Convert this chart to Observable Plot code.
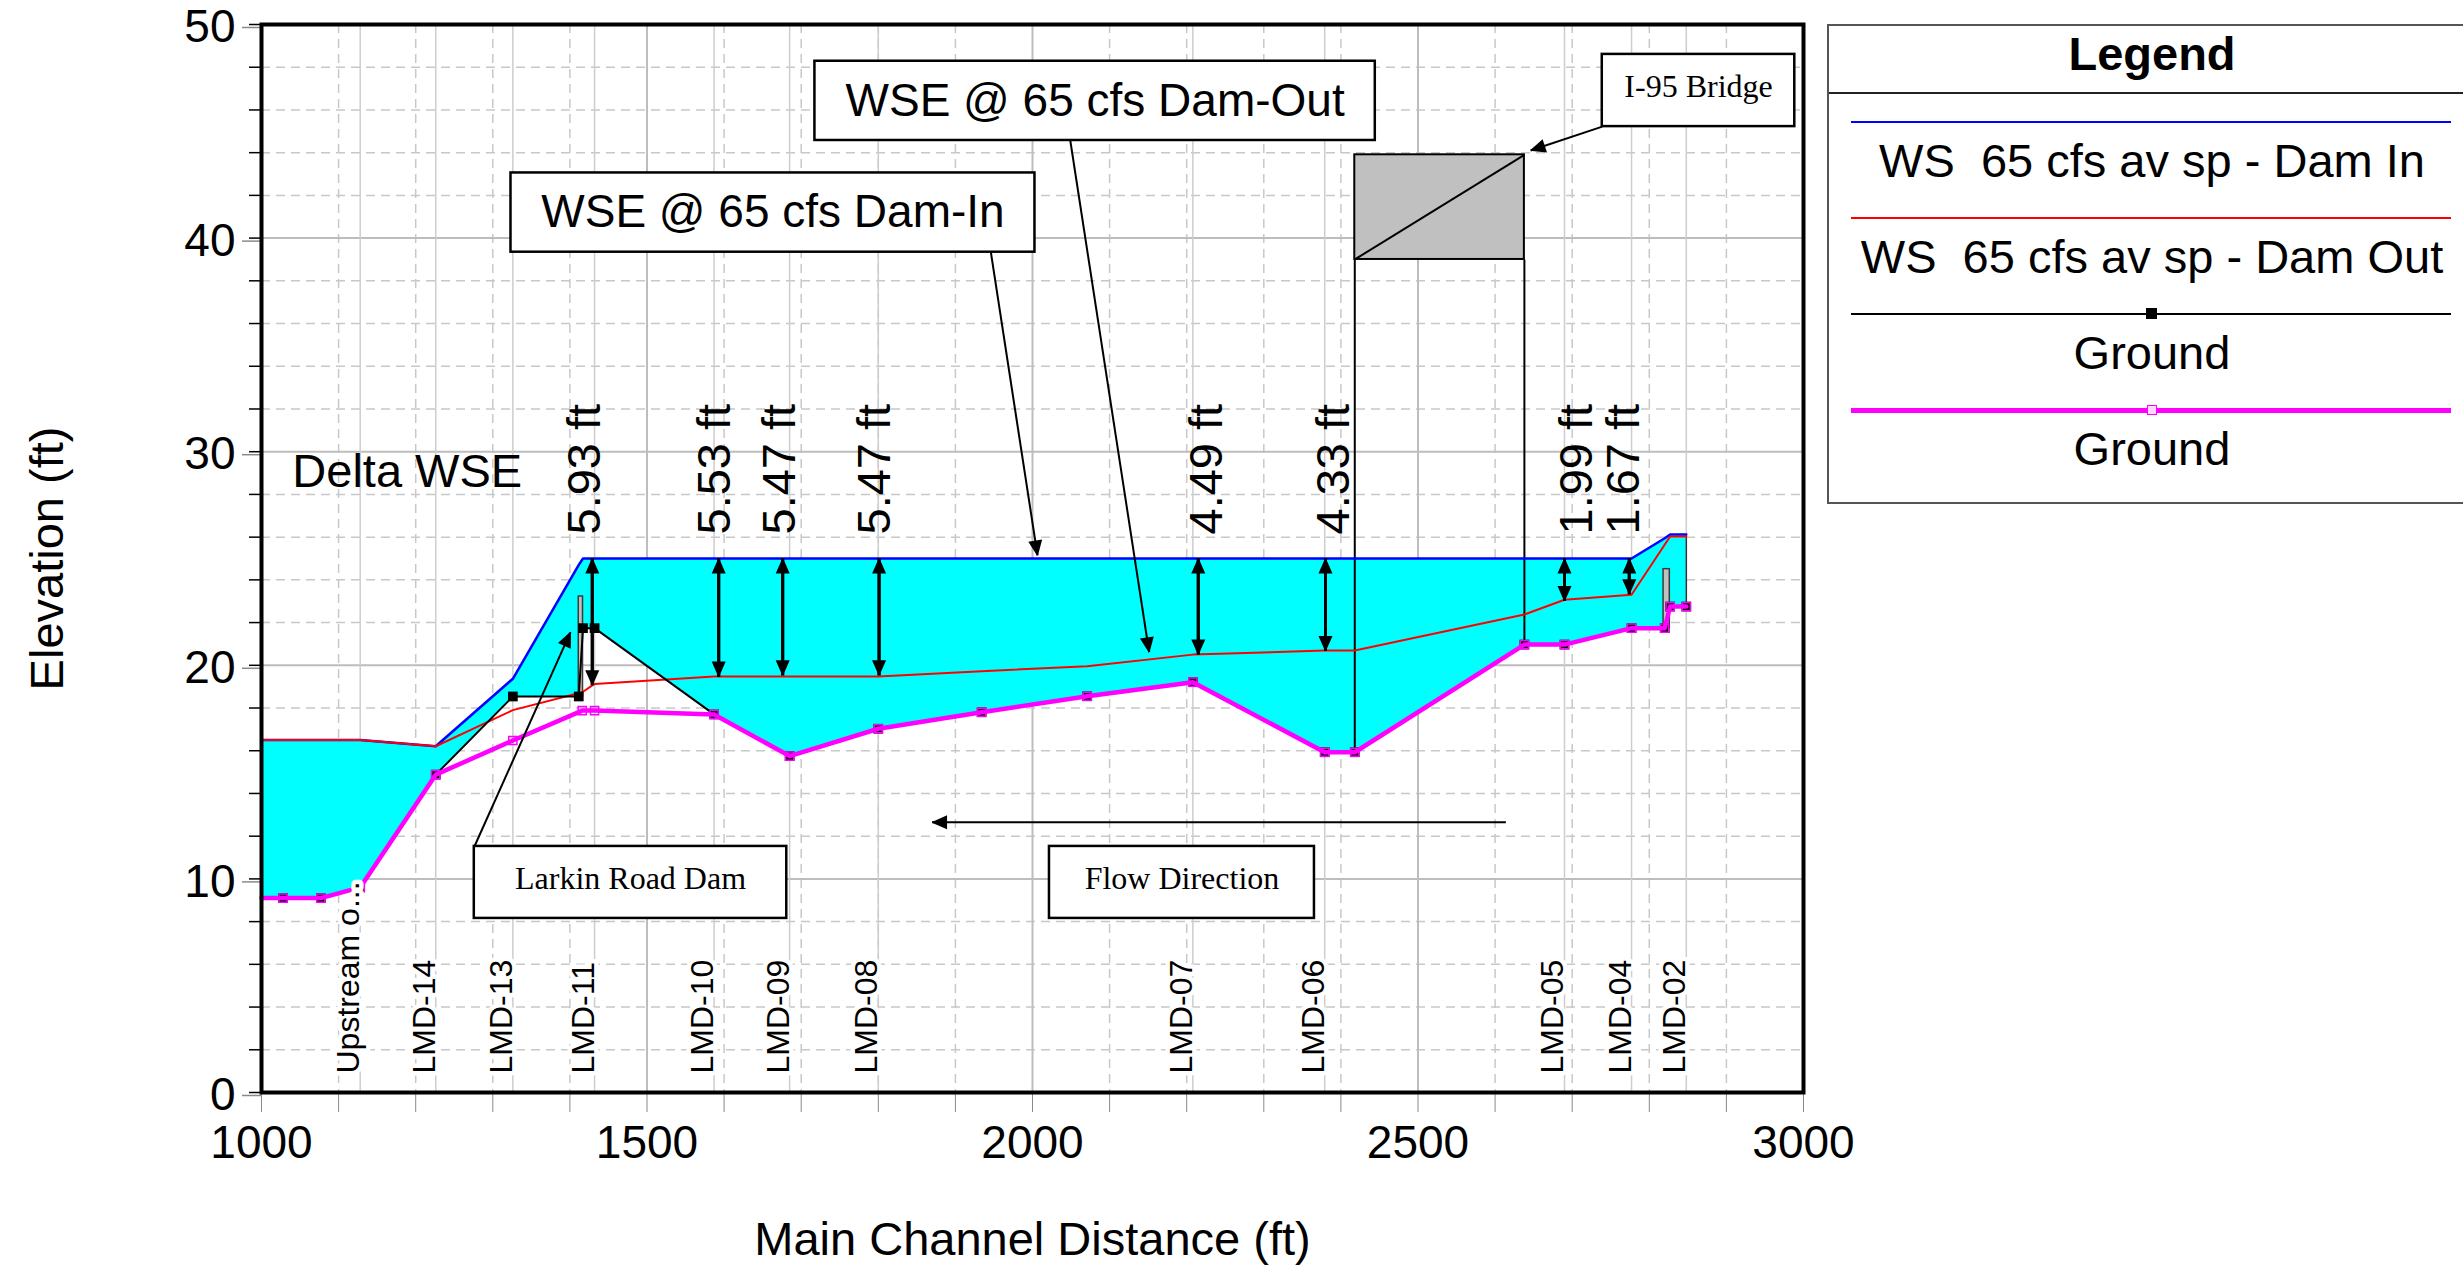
<!DOCTYPE html>
<html>
<head>
<meta charset="utf-8">
<script src="https://cdn.jsdelivr.net/npm/d3@7"></script>
<script src="https://cdn.jsdelivr.net/npm/@observablehq/plot@0.6"></script>
<style>
  html, body { margin: 0; padding: 0; background: #fff; }
  #wrap { position: relative; width: 2463px; height: 1279px; overflow: hidden; background: #fff;
          font-family: "Liberation Sans", Arial, Helvetica, sans-serif; }
  #wrap svg { position: absolute; left: 0; top: 0; }
  #legend { position: absolute; left: 1827px; top: 24px; width: 680px; height: 480px;
            border: 2px solid #555; box-sizing: border-box; background: #fff; }
  #legend .title { position: absolute; left: 0; width: 646px; top: 0; height: 56px; line-height: 56px;
                   text-align: center; font-weight: bold; font-size: 47px; }
  #legend .sep { position: absolute; left: 0; width: 100%; top: 66px; height: 0; border-top: 2px solid #222; }
  #legend .ln { position: absolute; left: 22px; width: 600px; }
  #legend .lab { position: absolute; left: 0; width: 646px; text-align: center; font-size: 47px;
                 white-space: pre; line-height: 56px; height: 56px; }
  #legend .mk { position: absolute; box-sizing: border-box; }
</style>
</head>
<body>
<div id="wrap"><div id="legend"></div></div>
<script>
// ---------------- data ----------------
// tick values
const xMajor = [1000, 1500, 2000, 2500, 3000];
const xMinor = [1000,1100,1200,1300,1400,1500,1600,1700,1800,1900,2000,2100,2200,2300,2400,2500,2600,2700,2800,2900,3000];
const yMajor = [0, 10, 20, 30, 40, 50];
const yMinor = [0,2,4,6,8,10,12,14,16,18,20,22,24,26,28,30,32,34,36,38,40,42,44,46,48,50];

// named cross sections
const stationNames = ["Upstream o...","LMD-14","LMD-13","LMD-11","LMD-10","LMD-09","LMD-08","LMD-07","LMD-06","LMD-05","LMD-04","LMD-02"];
const stationDist  = [1128, 1226, 1326, 1432, 1587, 1685, 1800, 2208, 2379, 2690, 2777, 2848];

// Dam In geometry: water surface (blue) and ground (black)
const damInDist   = [1000, 1028, 1077, 1128, 1226, 1326, 1411.5, 1417, 1432, 1587, 1685, 1800, 1934, 2071, 2208, 2379, 2418, 2638, 2690, 2777, 2820, 2827, 2848];
const wseDamIn    = [16.5, 16.5, 16.5, 16.5, 16.21, 19.37, 24.7, 25.0, 25.0, 25.0, 25.0, 25.0, 25.0, 25.0, 25.0, 25.0, 25.0, 25.0, 25.0, 25.0, 25.95, 26.12, 26.12];
const groundDamIn = [9.1, 9.1, 9.1, 9.6, 14.88, 18.54, 18.54, 21.74, 21.74, 17.7, 15.75, 17.03, 17.8, 18.55, 19.21, 15.93, 15.93, 20.97, 20.97, 21.74, 21.74, 22.75, 22.75];

// Dam Out geometry: water surface (red)
const damOutWsDist = [1000, 1028, 1077, 1128, 1226, 1326, 1416, 1432, 1587, 1685, 1800, 1934, 2071, 2208, 2379, 2418, 2638, 2690, 2777, 2827, 2848];
const wseDamOut    = [16.5, 16.5, 16.5, 16.5, 16.21, 17.9, 18.74, 19.13, 19.47, 19.48, 19.48, 19.72, 19.96, 20.5, 20.69, 20.69, 22.38, 23.07, 23.3, 26.03, 26.03];
// Dam Out ground (magenta)
const damOutGrDist = [1000, 1028, 1077, 1128, 1226, 1326, 1416, 1432, 1587, 1685, 1800, 1934, 2071, 2208, 2379, 2418, 2638, 2690, 2777, 2820, 2827, 2848];
const groundDamOut = [9.1, 9.1, 9.1, 9.6, 14.88, 16.48, 17.88, 17.88, 17.7, 15.75, 17.03, 17.8, 18.55, 19.21, 15.93, 15.93, 20.97, 20.97, 21.74, 21.74, 22.75, 22.75];

// delta WSE arrows
const deltaDist   = [1429, 1593, 1676, 1801, 2215, 2380, 2690, 2774];
const deltaTop    = [25.0, 25.0, 25.0, 25.0, 25.0, 25.0, 25.0, 25.0];
const deltaValues = [5.93, 5.53, 5.47, 5.47, 4.49, 4.33, 1.99, 1.67];
const deltaLabelDist = [1420, 1588, 1672, 1796, 2226, 2391, 2706, 2767];

// structures
const bridgeDist   = [2418, 2638];
const bridgeLow    = 39.0;
const bridgeHigh   = 43.9;
const bridgeGround = [15.93, 20.97];
const weirX1 = [1411.5, 2818.5];
const weirX2 = [1417, 2826.6];
const weirBottom = [18.54, 21.74];
const weirTop = [23.22, 24.5];

// annotation boxes
const boxText = ["WSE @ 65 cfs Dam-In", "WSE @ 65 cfs Dam-Out", "I-95 Bridge", "Larkin Road Dam", "Flow Direction"];
const boxX1 = [1323.6, 1717.8, 2739, 1276, 2022];
const boxX2 = [2003.2, 2444.6, 2988.7, 1681.3, 2365.7];
const boxY1 = [39.34, 44.57, 45.22, 8.15, 8.15];
const boxY2 = [43.05, 48.28, 48.6, 11.52, 11.52];
const boxSerif = [false, false, true, true, true];

// callout arrows (from -> to)
const calloutFromX = [1946, 2049, 2739, 1276.3, 2614];
const calloutFromY = [39.34, 44.57, 45.22, 11.53, 12.65];
const calloutToX   = [2006.5, 2151.3, 2646, 1400.8, 1869.7];
const calloutToY   = [25.14, 20.61, 44.1, 21.55, 12.65];

const deltaTitle = ["Delta WSE"];
const deltaTitleX = [1040];
const deltaTitleY = [29.07];

// legend
const legendTitle = "Legend";
const legendLabels = ["WS  65 cfs av sp - Dam In", "WS  65 cfs av sp - Dam Out", "Ground", "Ground"];
const legendColors = ["#0000ff", "#ff0000", "#000000", "#ff00ff"];

// ---------------- tables ----------------
const damIn = damInDist.map((x, i) => ({x, w: wseDamIn[i], g: groundDamIn[i]}));
const damOutWs = damOutWsDist.map((x, i) => ({x, w: wseDamOut[i]}));
const damOutGr = damOutGrDist.map((x, i) => ({x, g: groundDamOut[i]}));
const stations = stationDist.map((x, i) => ({x, name: stationNames[i]}));
const deltas = deltaDist.map((x, i) => ({x, top: deltaTop[i], bot: deltaTop[i] - deltaValues[i],
  label: deltaValues[i].toFixed(2) + " ft", lx: deltaLabelDist[i]}));
const bridge = [{x1: bridgeDist[0], x2: bridgeDist[1], y1: bridgeLow, y2: bridgeHigh}];
const bridgeSides = bridgeDist.map((x, i) => ({x, low: bridgeLow, ground: bridgeGround[i]}));
const weirs = weirX1.map((x1, i) => ({x1, x2: weirX2[i], y1: weirBottom[i], y2: weirTop[i]}));
const boxes = boxText.map((t, i) => ({t, x1: boxX1[i], x2: boxX2[i], y1: boxY1[i], y2: boxY2[i],
  cx: (boxX1[i] + boxX2[i]) / 2, cy: (boxY1[i] + boxY2[i]) / 2, serif: boxSerif[i]}));
const callouts = calloutFromX.map((x1, i) => ({x1, y1: calloutFromY[i], x2: calloutToX[i], y2: calloutToY[i]}));
const titles = deltaTitle.map((t, i) => ({t, x: deltaTitleX[i], y: deltaTitleY[i]}));

const sans = "'Liberation Sans', Arial, Helvetica, sans-serif";
const serif = "'Liberation Serif', 'Times New Roman', serif";

const minorXGrid = xMinor.filter(d => !xMajor.includes(d));
const minorYGrid = yMinor.filter(d => !yMajor.includes(d));

const chart = Plot.plot({
  width: 2463,
  height: 1279,
  marginLeft: 261,
  marginRight: 660,
  marginTop: 24,
  marginBottom: 187,
  x: {domain: [1000, 3000]},
  y: {domain: [0, 50]},
  style: {fontFamily: sans, background: "transparent", color: "black"},
  marks: [
    // grid
    Plot.ruleX(minorXGrid, {stroke: "#c8c8c8", strokeWidth: 1.5, strokeDasharray: "9,6"}),
    Plot.ruleY(minorYGrid, {stroke: "#c8c8c8", strokeWidth: 1.5, strokeDasharray: "9,6"}),
    Plot.ruleX(xMajor.slice(1, -1), {stroke: "#bdbdbd", strokeWidth: 2}),
    Plot.ruleY(yMajor.slice(1, -1), {stroke: "#bdbdbd", strokeWidth: 2}),
    Plot.ruleX(stations, {x: "x", stroke: "#cdcdcd", strokeWidth: 1.5}),
    // axes
    Plot.axisX(xMinor, {tickSize: 20, stroke: "#8a8a8a", strokeWidth: 1, tickFormat: () => "", label: null}),
    Plot.axisX(xMajor, {tickSize: 0, tickPadding: 33, fontSize: 46, tickFormat: "d", label: null}),
    Plot.axisY(yMinor, {tickSize: 12, stroke: "black", strokeWidth: 1.5, tickFormat: () => "", label: null}),
    Plot.axisY(yMajor, {tickSize: 19, tickPadding: 7, stroke: "#8a8a8a", strokeWidth: 1.5, fontSize: 46, dy: 3, tickFormat: "d", label: null}),
    Plot.text(["Main Channel Distance (ft)"], {frameAnchor: "bottom", dy: 147, fontSize: 47, lineAnchor: "middle"}),
    Plot.text(["Elevation (ft)"], {frameAnchor: "left", dx: -214, rotate: -90, fontSize: 47, lineAnchor: "middle", textAnchor: "middle"}),
    // water fill (Dam In)
    Plot.areaY(damIn, {x: "x", y1: "g", y2: "w", fill: "#00ffff", curve: "linear"}),
    // bridge
    Plot.rect(bridge, {x1: "x1", x2: "x2", y1: "y1", y2: "y2", fill: "#c0c0c0", stroke: "black", strokeWidth: 2}),
    Plot.link(bridge, {x1: "x1", y1: "y1", x2: "x2", y2: "y2", stroke: "black", strokeWidth: 2}),
    Plot.link(bridgeSides, {x1: "x", x2: "x", y1: "low", y2: "ground", stroke: "black", strokeWidth: 2}),
    // weirs / dams
    Plot.rect(weirs, {x1: "x1", x2: "x2", y1: "y1", y2: "y2", fill: "#c0c0c0", stroke: "#3a3a3a", strokeWidth: 1.5}),
    // right edge of the water body
    Plot.link(damIn.slice(-1), {x1: "x", x2: "x", y1: "g", y2: "w", stroke: "#333", strokeWidth: 1.5}),
    // water surfaces
    Plot.line(damIn, {x: "x", y: "w", stroke: "#0000ff", strokeWidth: 2.5}),
    Plot.line(damOutWs, {x: "x", y: "w", stroke: "#ff0000", strokeWidth: 2}),
    // ground dam in
    Plot.line(damIn, {x: "x", y: "g", stroke: "black", strokeWidth: 2}),
    Plot.dot(damIn.filter(d => d.x > 1000), {x: "x", y: "g", symbol: "square", fill: "black", r: 5.5}),
    // ground dam out
    Plot.line(damOutGr, {x: "x", y: "g", stroke: "#ff00ff", strokeWidth: 4.5}),
    Plot.dot(damOutGr.filter(d => d.x > 1000), {x: "x", y: "g", symbol: "square", fill: "none", stroke: "#ff00ff", strokeWidth: 1.5, r: 4.6}),
    // delta arrows (two halves, each with an end marker)
    Plot.link(deltas, {x1: "x", x2: "x", y1: "bot", y2: "top", stroke: "black", strokeWidth: 3, markerEnd: "arrow"}),
    Plot.link(deltas, {x1: "x", x2: "x", y1: "top", y2: "bot", stroke: "black", strokeWidth: 3, markerEnd: "arrow"}),
    Plot.text(deltas, {x: "lx", y: "top", text: "label", dy: -24, rotate: -90, textAnchor: "start", lineAnchor: "middle", fontSize: 47}),
    Plot.text(titles, {x: "x", y: "y", text: "t", textAnchor: "start", lineAnchor: "middle", fontSize: 47}),
    // station labels
    Plot.text(stations, {x: "x", text: "name", frameAnchor: "bottom", dy: -19, dx: -1, rotate: -90,
      textAnchor: "start", lineAnchor: "bottom", fontSize: 32, fill: "black",
      stroke: "white", strokeWidth: 9, paintOrder: "stroke"}),
    // callouts
    Plot.link(callouts, {x1: "x1", y1: "y1", x2: "x2", y2: "y2", stroke: "black", strokeWidth: 2, markerEnd: "arrow"}),
    Plot.rect(boxes, {x1: "x1", x2: "x2", y1: "y1", y2: "y2", fill: "white", stroke: "black", strokeWidth: 2.5}),
    Plot.text(boxes.filter(d => !d.serif), {x: "cx", y: "cy", text: "t", fontSize: 46, lineAnchor: "middle"}),
    Plot.text(boxes.filter(d => d.serif), {x: "cx", y: "cy", text: "t", fontSize: 32, dy: -4, lineAnchor: "middle", fontFamily: serif}),
    // frame
    Plot.frame({stroke: "black", strokeWidth: 4})
  ]
});

// filled triangular arrowheads
chart.querySelectorAll("marker").forEach(m => {
  const color = m.getAttribute("stroke") || "black";
  m.setAttribute("viewBox", "-20 -10 20 20");
  m.setAttribute("markerWidth", 20);
  m.setAttribute("markerHeight", 20);
  m.setAttribute("markerUnits", "userSpaceOnUse");
  m.setAttribute("refX", 0);
  m.setAttribute("refY", 0);
  m.setAttribute("fill", color);
  m.setAttribute("stroke", "none");
  while (m.firstChild) m.removeChild(m.firstChild);
  const p = document.createElementNS("http://www.w3.org/2000/svg", "path");
  p.setAttribute("d", "M1,0L-15,-7L-15,7Z");
  m.appendChild(p);
});

const wrap = document.getElementById("wrap");
wrap.insertBefore(chart, wrap.firstChild);

// legend
const lg = d3.select("#legend");
lg.append("div").attr("class", "title").text(legendTitle);
lg.append("div").attr("class", "sep");
const lineTop = [96, 192, 288, 384];
const lineW = [2.5, 2.5, 2, 5];
legendLabels.forEach((t, i) => {
  lg.append("div").attr("class", "ln")
    .style("top", (lineTop[i] - lineW[i] / 2) + "px")
    .style("height", lineW[i] + "px")
    .style("background", legendColors[i]);
  if (i === 2) {
    lg.append("div").attr("class", "mk")
      .style("left", "317px").style("top", (lineTop[i] - 6) + "px")
      .style("width", "11px").style("height", "11px").style("background", "#000");
  }
  if (i === 3) {
    lg.append("div").attr("class", "mk")
      .style("left", "318px").style("top", (lineTop[i] - 5) + "px")
      .style("width", "10px").style("height", "10px")
      .style("border", "1.5px solid #ff00ff").style("background", "#ffd6ff");
  }
  lg.append("div").attr("class", "lab")
    .style("top", (lineTop[i] + 11) + "px")
    .text(t);
});
</script>
</body>
</html>
